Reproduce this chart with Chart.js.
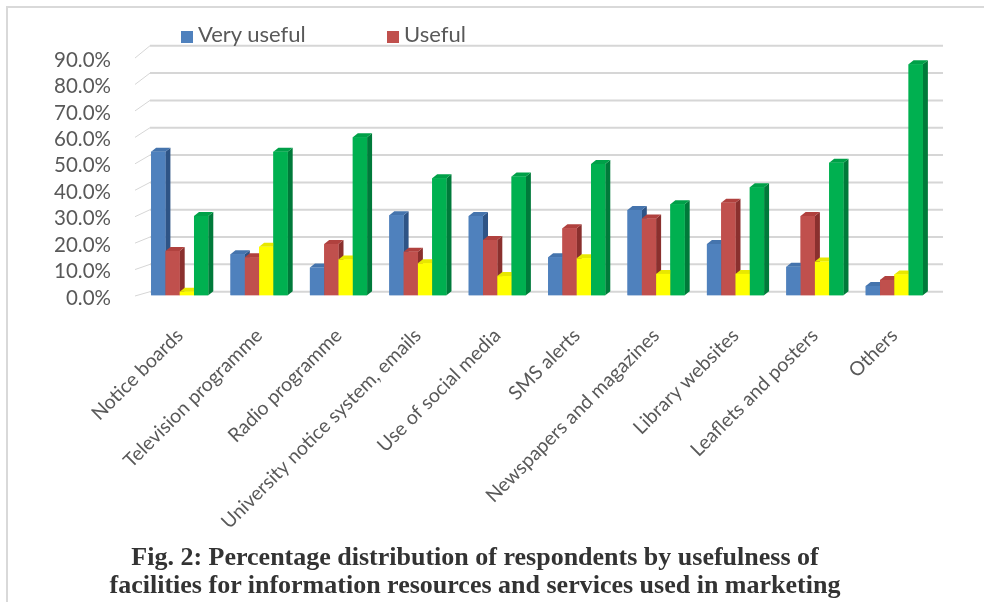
<!DOCTYPE html>
<html>
<head>
<meta charset="utf-8">
<script src="https://cdn.jsdelivr.net/npm/chart.js@4.4.1/dist/chart.umd.min.js"></script>
<style>
  html, body { margin: 0; padding: 0; background: #fff; }
  #wrap { position: relative; width: 984px; height: 602px; overflow: hidden; background: #fff; }
  #frame { position: absolute; left: 6px; top: 6px; right: -4px; bottom: -4px;
           border-left: 2px solid #d9d9d9; border-top: 2px solid #d9d9d9; }
  #c { position: absolute; left: 0; top: 0; }
  .leg { position: absolute; top: 20px; height: 28px; line-height: 28px;
         font-family: Lato, "Open Sans", sans-serif; font-size: 22px; color: #595959; white-space: nowrap; }
  .leg i { display: inline-block; width: 12px; height: 12px; margin-right: 5px; vertical-align: -1px; }
  #caption { position: absolute; left: -17px; width: 984px; top: 543px; text-align: center;
             font-family: "Liberation Serif", "Times New Roman", serif; font-weight: bold;
             font-size: 26px; line-height: 28px; color: #333; }
</style>
</head>
<body>
<div id="wrap">
  <div id="frame"></div>
  <canvas id="c" width="984" height="602"></canvas>
  <div class="leg" style="left:181px"><i style="background:#4f81bd"></i>Very useful</div>
  <div class="leg" style="left:387px"><i style="background:#c0504d"></i>Useful</div>
  <div id="caption">Fig. 2: Percentage distribution of respondents by usefulness of<br>facilities for information resources and services used in marketing</div>
</div>
<script>
// Facilities used for marketing library resources and services
const categories = [
  'Notice boards', 'Television programme', 'Radio programme',
  'University notice system, emails', 'Use of social media', 'SMS alerts',
  'Newspapers and magazines', 'Library websites', 'Leaflets and posters', 'Others'
];
const seriesNames = ['Very useful', 'Useful', 'Less useful', 'Not useful'];

// Percentage of respondents per rating
const veryUseful = [52.5, 15.0, 10.1, 29.3, 29.0, 13.9, 31.2, 18.7, 10.4, 3.4];
const useful     = [16.2, 13.9, 18.7, 15.9, 20.2, 24.5, 28.1, 33.8, 29.0, 5.6];
const lessUseful = [1.3, 17.7, 13.1, 11.7, 7.0, 13.5, 7.8, 7.8, 12.3, 7.6];
const notUseful  = [29.0, 52.5, 57.8, 42.8, 43.4, 48.0, 33.3, 39.5, 48.5, 84.5];

const yTicks = [0, 10, 20, 30, 40, 50, 60, 70, 80, 90];

// Face colours: front, right side, top
const fronts = ['#4f81bd', '#c0504d', '#ffff00', '#00b050'];
const sides  = ['#2e5486', '#8a302e', '#b8b800', '#007a3a'];
const tops   = ['#4574ad', '#b0413e', '#e8e800', '#00a048'];

const DX = 5, DY = 4;   // depth of each column

// 3D look: back-wall gridlines and extruded columns
const threeD = {
  id: 'threeD',
  beforeDatasetsDraw(chart) {
    const ctx = chart.ctx, y = chart.scales.y, yl = chart.scales.yl, a = chart.chartArea;
    ctx.save();
    ctx.strokeStyle = '#d6d6d6';
    yTicks.forEach(v => {
      const yb = y.getPixelForValue(v) - 3.5;
      const yf = yl.getPixelForValue(v) - 2;
      ctx.lineWidth = 2;
      ctx.beginPath();
      ctx.moveTo(a.left + 10, yb);
      ctx.lineTo(a.right + 9, yb);
      ctx.stroke();
      ctx.lineWidth = 1;
      ctx.beginPath();
      ctx.moveTo(a.left - 5, yf);
      ctx.lineTo(a.left + 10, yb);
      ctx.stroke();
    });
    ctx.restore();
  },
  afterDatasetsDraw(chart) {
    const ctx = chart.ctx;
    const nd = chart.data.datasets.length;
    ctx.save();
    for (let i = 0; i < chart.data.labels.length; i++) {
      for (let d = 0; d < nd; d++) {
        const el = chart.getDatasetMeta(d).data[i];
        const p = el.getProps(['x', 'y', 'base', 'width'], true);
        const l = p.x - p.width / 2, r = p.x + p.width / 2, t = p.y, b = p.base;
        ctx.fillStyle = sides[d];
        ctx.beginPath();
        ctx.moveTo(r, t); ctx.lineTo(r + DX, t - DY); ctx.lineTo(r + DX, b - DY); ctx.lineTo(r, b);
        ctx.closePath(); ctx.fill();
        ctx.fillStyle = tops[d];
        ctx.beginPath();
        ctx.moveTo(l, t); ctx.lineTo(l + DX, t - DY); ctx.lineTo(r + DX, t - DY); ctx.lineTo(r, t);
        ctx.closePath(); ctx.fill();
        ctx.fillStyle = fronts[d];
        ctx.fillRect(l, t, r - l, b - t);
      }
    }
    ctx.restore();
  }
};

const seriesValues = [veryUseful, useful, lessUseful, notUseful];

new Chart(document.getElementById('c'), {
  type: 'bar',
  data: {
    labels: categories,
    datasets: seriesValues.map((vals, k) => ({
      label: seriesNames[k],
      data: vals,
      backgroundColor: fronts[k],
      borderWidth: 0,
      categoryPercentage: 0.72,
      barPercentage: 1.0
    }))
  },
  options: {
    responsive: false,
    animation: false,
    devicePixelRatio: 1,
    layout: { padding: { top: 45, right: 50, bottom: 0, left: 0 } },
    plugins: { legend: { display: false }, tooltip: { enabled: false } },
    scales: {
      x: {
        type: 'category',
        grid: { display: false, drawTicks: false },
        border: { display: false },
        ticks: {
          autoSkip: false, minRotation: 45, maxRotation: 45, padding: 24,
          color: '#595959', font: { family: 'Lato', size: 19.5 }
        },
        afterFit(ax) { ax.height = 302; }
      },
      // value axis for the columns (front faces)
      y: {
        display: false,
        min: -1.756, max: 91.55
      },
      // labelled axis on the front edge of the wall
      yl: {
        position: 'left',
        min: -0.756, max: 95.69,
        grid: { display: false, drawTicks: false },
        border: { display: false },
        ticks: {
          stepSize: 10, includeBounds: false, padding: 29,
          color: '#595959', font: { family: 'Lato', size: 20.5 },
          callback: v => v.toFixed(1) + '%'
        },
        afterBuildTicks(ax) {
          ax.ticks = yTicks.map(v => ({ value: v }));
        },
        afterFit(ax) { ax.width = 140; }
      }
    }
  },
  plugins: [threeD]
});
</script>
</body>
</html>
